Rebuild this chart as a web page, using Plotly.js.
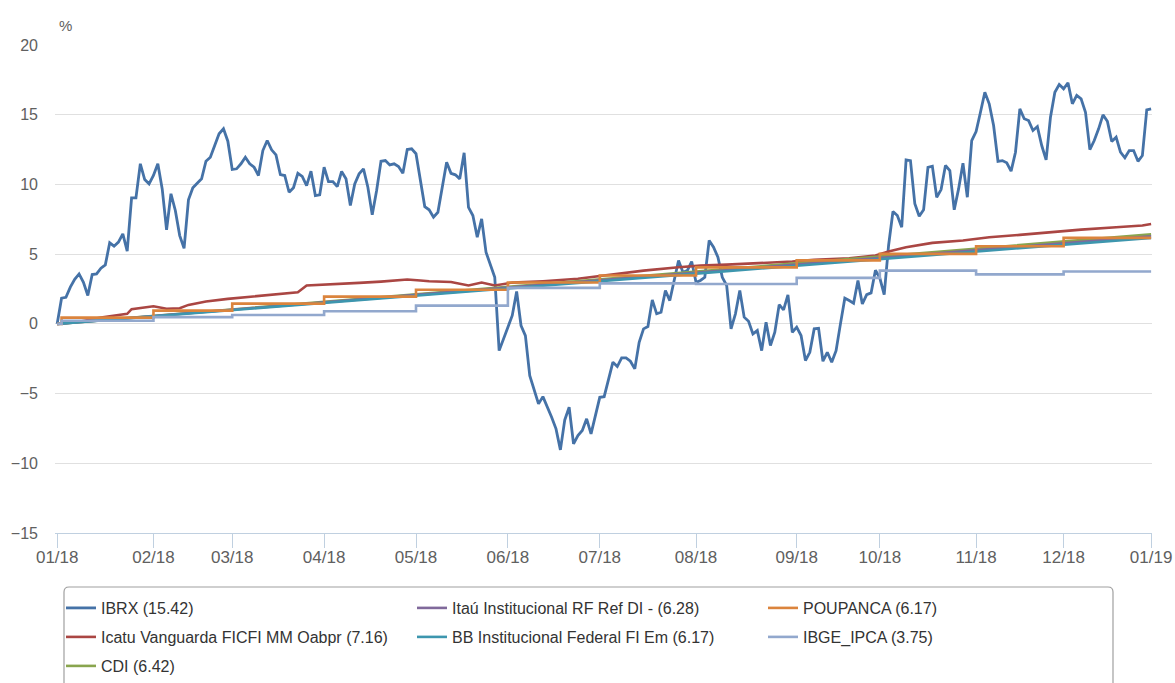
<!DOCTYPE html>
<html><head><meta charset="utf-8">
<script src="https://cdn.plot.ly/plotly-3.0.1.min.js"></script>
<style>html,body{margin:0;padding:0;background:#fff;} #chart{width:1175px;height:683px;}</style>
</head><body><div id="chart"></div>
<script>
// trading-day index of the first session of each month, and tick labels
const monthIdx = [0, 22, 40, 61, 82, 103, 124, 146, 169, 188, 210, 230, 250];
const monthLabels = ['01/18','02/18','03/18','04/18','05/18','06/18','07/18','08/18','09/18','10/18','11/18','12/18','01/19'];

// IBRX daily accumulated return (%), one value per trading day 0..250
const ibrx = [
0,1.84,1.9,2.63,3.2,3.58,2.98,2.03,3.54,3.58,3.99,4.23,5.81,5.57,5.86,6.46,5.21,9.04,9.04,11.48,
10.35,10.04,10.64,11.48,9.68,6.74,9.33,8.13,6.33,5.42,8.9,9.76,10.09,10.4,11.66,11.95,12.79,13.63,13.99,13.1,
11.07,11.12,11.48,11.95,11.48,11.23,10.64,12.43,13.15,12.48,12.12,10.71,10.64,9.44,9.76,10.8,10.57,9.92,10.95,9.2,
9.25,11.23,10.2,10.2,9.85,10.93,10.4,8.49,10.04,10.76,11.12,9.8,7.82,9.56,11.66,11.71,11.4,11.48,11.28,10.8,
12.5,12.55,12.2,10.16,8.41,8.18,7.65,8.0,9.68,11.59,10.8,10.69,10.4,12.27,8.36,7.77,6.21,7.53,5.14,4.3,
3.34,-1.92,-1.15,-0.24,0.6,2.32,-0.12,-0.84,-3.71,-4.78,-5.74,-5.22,-5.93,-6.7,-7.53,-9.04,-6.89,-5.98,-8.61,-8.01,
-7.65,-6.81,-7.89,-6.58,-5.27,-5.22,-4.07,-2.75,-3.06,-2.44,-2.44,-2.68,-3.23,-1.32,-0.36,-0.19,1.72,0.72,0.83,2.39,
1.67,3.11,4.54,3.7,3.82,4.47,2.98,3.11,3.34,5.98,5.5,4.78,3.34,2.75,-0.36,0.72,2.39,0.48,0.19,-0.72,
-0.48,-1.92,0.11,-1.56,-0.6,1.38,1.0,2.08,-0.6,-0.24,-0.84,-2.63,-2.04,-0.36,-0.32,-2.68,-2.04,-2.75,-1.92,0.0,
1.84,1.67,1.48,3.11,1.43,2.1,2.22,3.85,3.28,2.1,5.62,8.06,7.77,6.93,11.76,11.71,8.61,7.72,8.18,11.23,
11.31,9.08,9.63,11.36,11.0,8.18,9.68,11.52,9.08,13.15,13.79,15.18,16.61,15.78,14.22,11.66,11.71,11.55,10.95,12.31,
15.42,14.71,14.58,13.87,14.15,12.79,11.76,14.82,16.61,17.17,16.86,17.29,15.78,16.38,16.14,15.18,12.5,13.15,13.99,14.99,
14.53,13.08,13.39,12.31,11.91,12.43,12.43,11.66,12.07,15.35,15.42
];

// Icatu Vanguarda FICFI MM Oabpr (%)
const icatuIdx = [0,5,10,16,17,19,22,25,28,30,34,39,43,49,55,57,61,65,69,74,80,83,85,90,94,97,100,104,111,119,125,134,142,147,153,157,165,168,173,181,187,190,194,200,207,213,220,228,234,242,248,250];
const icatu    = [0,0.15,0.45,0.72,1.05,1.12,1.26,1.08,1.12,1.36,1.6,1.79,1.91,2.1,2.27,2.75,2.8,2.87,2.94,3.03,3.18,3.11,3.06,3.0,2.75,2.96,2.75,2.96,3.06,3.23,3.46,3.82,4.06,4.18,4.25,4.3,4.42,4.47,4.59,4.71,4.9,5.19,5.5,5.81,5.98,6.21,6.38,6.62,6.76,6.93,7.05,7.16];

// smooth fixed-income series, values at the first session of each month
const cdi  = [0,0.58,1.05,1.59,2.12,2.65,3.19,3.75,4.34,4.83,5.39,5.90,6.42];
const itau = [0,0.57,1.03,1.56,2.08,2.60,3.12,3.67,4.25,4.73,5.28,5.77,6.28];
const bb   = [0,0.55,1.00,1.52,2.03,2.54,3.06,3.60,4.17,4.64,5.18,5.67,6.17];

// monthly step series
const stepIdx  = [0,1,22,40,61,82,103,124,146,169,188,210,230,250];
const poupanca = [0,0.45,0.95,1.45,1.95,2.45,2.97,3.47,4.05,4.55,5.02,5.57,6.17,6.17];
const ipca     = [0,0.22,0.48,0.64,0.90,1.31,2.58,2.90,2.86,3.30,3.82,3.55,3.75,3.75];

const names = ['IBRX (15.42)','Icatu Vanguarda FICFI MM Oabpr (7.16)','CDI (6.42)',
  'Itaú Institucional RF Ref DI - (6.28)','BB Institucional Federal FI Em (6.17)','POUPANCA (6.17)','IBGE_IPCA (3.75)'];
const colors = ['#4572A7','#AA4643','#89A54E','#80699B','#3D96AE','#DB843D','#92A8CD'];

const days = ibrx.map((v,i)=>i);
const LW = 2.6;
const traces = [
  {x: days, y: ibrx, name: names[0], legend:'legend', line:{color:colors[0], width:2.8}},
  {x: icatuIdx, y: icatu, name: names[1], legend:'legend2', line:{color:colors[1], width:LW}},
  {x: monthIdx, y: cdi, name: names[2], legend:'legend3', line:{color:colors[2], width:LW}},
  {x: monthIdx, y: itau, name: names[3], legend:'legend', line:{color:colors[3], width:LW}},
  {x: monthIdx, y: bb, name: names[4], legend:'legend2', line:{color:colors[4], width:LW}},
  {x: stepIdx, y: poupanca, name: names[5], legend:'legend', line:{color:colors[5], width:LW, shape:'hv'}},
  {x: stepIdx, y: ipca, name: names[6], legend:'legend2', line:{color:colors[6], width:LW, shape:'hv'}}
].map(t => Object.assign({type:'scatter', mode:'lines', hoverinfo:'skip'}, t));

const tickFont = {family:'Liberation Sans, Arial, sans-serif', size:16, color:'#606060'};
const legFont = {family:'Liberation Sans, Arial, sans-serif', size:16, color:'#333333'};
const PW = 1097, PH = 488;
function leg(py){
  return {orientation:'h', x:6/PW, xanchor:'left', y:(533-py)/PH, yanchor:'middle',
    entrywidth:306, entrywidthmode:'pixels', font:legFont, bgcolor:'rgba(0,0,0,0)', borderwidth:0,
    itemclick:false, itemdoubleclick:false};
}

// rounded legend frame in paper coordinates (plot area 55..1152 x 45..533)
const bx0 = (64-55)/PW, bx1 = (1113-55)/PW, by0 = (533-587)/PH, by1 = (533-720)/PH;
const rx = 5/PW, ry = 5/PH;
const framePath = `M ${bx0+rx},${by0} L ${bx1-rx},${by0} Q ${bx1},${by0} ${bx1},${by0-ry} L ${bx1},${by1} L ${bx0},${by1} L ${bx0},${by0-ry} Q ${bx0},${by0} ${bx0+rx},${by0} Z`;

const layout = {
  width:1175, height:683,
  margin:{l:55, r:23, t:45, b:150, pad:0, autoexpand:false},
  paper_bgcolor:'#ffffff', plot_bgcolor:'#ffffff',
  showlegend:true,
  hovermode:false,
  xaxis:{range:[-0.5,250.2], tickmode:'array', tickvals:monthIdx, ticktext:monthLabels,
    showgrid:false, zeroline:false, showline:true, linecolor:'#C0D0E0', linewidth:1,
    ticks:'outside', ticklen:14, tickcolor:'#C0D0E0', tickwidth:1, ticklabelstandoff:-5,
    tickfont:{family:'Liberation Sans, Arial, sans-serif', size:17, color:'#606060'}, fixedrange:true},
  yaxis:{range:[-15,20], tickmode:'array', tickvals:[-15,-10,-5,0,5,10,15,20],
    showgrid:true, gridcolor:'#E0E0E0', gridwidth:1, zeroline:false, showline:false,
    ticks:'', ticklabelstandoff:16, tickfont:tickFont, fixedrange:true},
  legend: leg(608),
  legend2: leg(637),
  legend3: leg(666),
  shapes:[{type:'path', xref:'paper', yref:'paper', path:framePath,
    line:{color:'#A0A0A0', width:1.2}, fillcolor:'rgba(0,0,0,0)', layer:'below'}],
  annotations:[{xref:'paper', yref:'paper', x:(57-55)/PW, y:(533-25)/PH, xanchor:'left', yanchor:'middle',
    text:'%', showarrow:false, font:{family:'Liberation Sans, Arial, sans-serif', size:15, color:'#606060'}}]
};

Plotly.newPlot('chart', traces, layout, {displayModeBar:false, staticPlot:true});
</script></body></html>
